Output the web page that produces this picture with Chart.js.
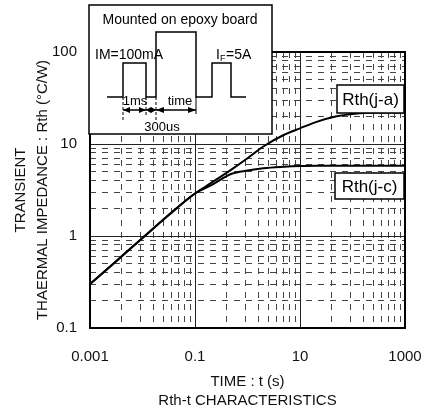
<!DOCTYPE html>
<html>
<head>
<meta charset="utf-8">
<script src="https://cdn.jsdelivr.net/npm/chart.js@4.4.1/dist/chart.umd.min.js"></script>
<style>
body { margin: 0; background: #fff; }
</style>
</head>
<body>
<canvas id="myChart" width="424" height="414"></canvas>
<script>
var timeS = [0.001, 0.003, 0.01, 0.03, 0.1, 0.2, 0.5, 1, 2, 5, 10, 20, 50, 100, 200, 500, 1000];
var rthJA = [0.3, 0.52, 0.95, 1.65, 2.9, 3.75, 5.3, 7.0, 9.4, 12.6, 14.8, 17.3, 20.0, 21.2, 21.8, 22.0, 22.0];
var rthJC = [0.3, 0.52, 0.95, 1.65, 2.9, 3.55, 4.75, 5.15, 5.45, 5.65, 5.75, 5.8, 5.8, 5.8, 5.8, 5.8, 5.8];
var xTickLabels = ['0.001', '0.1', '10', '1000'];
var yTickLabels = ['0.1', '1', '10', '100'];

var FONT = 'Arial, "Liberation Sans", sans-serif';
var xMajor = xTickLabels.map(Number);
var yMajor = yTickLabels.map(Number);

// one labelled x step is two decades, but the grid splits it like a single decade
var xTicks = [];
xMajor.forEach(function(m, i) {
    if (i == xMajor.length - 1) { xTicks.push(m); return; }
    for (var k = 1; k <= 9; k++) xTicks.push(m * k * k);
});
var yTicks = [];
yMajor.forEach(function(m, i) {
    if (i == yMajor.length - 1) { yTicks.push(m); return; }
    for (var k = 1; k <= 9; k++) yTicks.push(m * k);
});

function isMajorOf(major) {
    return function(c) { return c.tick && major.indexOf(c.tick.value) >= 0; };
}

function gridFor(major) {
    var isMajor = isMajorOf(major);
    return {
        drawTicks: false,
        lineWidth: 1,
        color: function(c) { return isMajor(c) ? '#222' : '#444'; }
    };
}

// in v4 the grid line dash lives under border
function borderFor(major) {
    var isMajor = isMajorOf(major);
    return {
        display: false,
        dash: function(c) { return isMajor(c) ? [] : [6, 6]; }
    };
}

function arrow(c, x1, x2, y, head) {
    c.beginPath(); c.moveTo(x1, y); c.lineTo(x2, y); c.stroke();
    c.beginPath();
    c.moveTo(x1, y); c.lineTo(x1 + head, y - 3); c.lineTo(x1 + head, y + 3); c.closePath();
    c.moveTo(x2, y); c.lineTo(x2 - head, y - 3); c.lineTo(x2 - head, y + 3); c.closePath();
    c.fill();
}

function labelBox(c, text, x1, y1, x2, y2) {
    c.fillStyle = '#fff';
    c.fillRect(x1, y1, x2 - x1, y2 - y1);
    c.strokeRect(x1, y1, x2 - x1, y2 - y1);
    c.fillStyle = '#000';
    c.font = '17px ' + FONT;
    c.textAlign = 'center';
    c.textBaseline = 'middle';
    c.fillText(text, (x1 + x2) / 2, (y1 + y2) / 2 + 1);
}

var framePlugin = {
    id: 'frame',
    afterDraw: function(chart) {
        var c = chart.ctx, a = chart.chartArea;
        c.save();
        c.strokeStyle = '#000';
        c.lineWidth = 2;
        c.strokeRect(a.left, a.top, a.right - a.left, a.bottom - a.top);

        // test circuit inset
        c.lineWidth = 1.5;
        c.fillStyle = '#fff';
        c.fillRect(89, 5, 183, 129);
        c.strokeRect(89, 5, 183, 129);
        c.fillStyle = '#000';
        c.font = '14px ' + FONT;
        c.textAlign = 'center';
        c.textBaseline = 'middle';
        c.fillText('Mounted on epoxy board', 180, 20);
        c.textAlign = 'left';
        c.fillText('IM=100mA', 95, 55);
        c.fillText('I', 216, 55);
        c.font = '9px ' + FONT;
        c.fillText('F', 220, 59);
        c.font = '14px ' + FONT;
        c.fillText('=5A', 226, 55);

        c.beginPath();
        c.moveTo(107, 97); c.lineTo(123, 97); c.lineTo(123, 63); c.lineTo(146, 63);
        c.lineTo(146, 97); c.lineTo(156, 97); c.lineTo(156, 32); c.lineTo(196, 32);
        c.lineTo(196, 97); c.lineTo(212, 97); c.lineTo(212, 63); c.lineTo(231, 63);
        c.lineTo(231, 97); c.lineTo(246, 97);
        c.stroke();

        c.lineWidth = 1;
        c.setLineDash([3, 2]);
        c.beginPath();
        c.moveTo(123, 97); c.lineTo(123, 121);
        c.moveTo(146, 97); c.lineTo(146, 115);
        c.moveTo(156, 97); c.lineTo(156, 121);
        c.stroke();
        c.setLineDash([]);
        c.beginPath(); c.moveTo(196, 97); c.lineTo(196, 114); c.stroke();

        c.lineWidth = 1.5;
        arrow(c, 123, 146, 110, 7);
        arrow(c, 146, 156, 110, 5);
        arrow(c, 156, 196, 110, 8);
        c.font = '13px ' + FONT;
        c.textAlign = 'center';
        c.fillText('1ms', 135, 101);
        c.fillText('time', 180, 101);
        c.fillText('300us', 162, 127);

        labelBox(c, 'Rth(j-a)', 337, 85, 404, 113);
        labelBox(c, 'Rth(j-c)', 335, 173, 404, 199);
        c.restore();
    }
};

var ctx = document.getElementById('myChart').getContext('2d');
var myChart = new Chart(ctx, {
    type: 'line',
    data: {
        datasets: [{
            label: 'Rth(j-a)',
            data: timeS.map(function(t, i) { return { x: t, y: rthJA[i] }; }),
            borderColor: '#000',
            borderWidth: 2,
            pointRadius: 0,
            cubicInterpolationMode: 'monotone'
        }, {
            label: 'Rth(j-c)',
            data: timeS.map(function(t, i) { return { x: t, y: rthJC[i] }; }),
            borderColor: '#000',
            borderWidth: 2,
            pointRadius: 0,
            cubicInterpolationMode: 'monotone'
        }]
    },
    options: {
        responsive: false,
        animation: false,
        layout: { padding: { top: 52, right: 19, left: 0, bottom: 4 } },
        plugins: { legend: { display: false }, tooltip: { enabled: false } },
        scales: {
            x: {
                type: 'logarithmic',
                min: 0.001,
                max: 1000,
                afterBuildTicks: function(s) { s.ticks = xTicks.map(function(v) { return { value: v }; }); },
                afterFit: function(s) { s.height = 82; s.paddingLeft = 0; s.paddingRight = 0; },
                border: borderFor(xMajor),
                grid: gridFor(xMajor),
                ticks: {
                    autoSkip: false,
                    maxRotation: 0,
                    padding: 20,
                    color: '#111',
                    font: { family: FONT, size: 15 },
                    callback: function(v) { var i = xMajor.indexOf(v); return i >= 0 ? xTickLabels[i] : ''; }
                },
                title: {
                    display: true,
                    text: ['TIME : t (s)', 'Rth-t CHARACTERISTICS'],
                    color: '#111',
                    font: { family: FONT, size: 15, lineHeight: '19px' },
                    padding: { top: 0, bottom: 0 }
                }
            },
            y: {
                type: 'logarithmic',
                min: 0.1,
                max: 100,
                afterBuildTicks: function(s) { s.ticks = yTicks.map(function(v) { return { value: v }; }); },
                afterFit: function(s) { s.width = 90; },
                border: borderFor(yMajor),
                grid: gridFor(yMajor),
                ticks: {
                    autoSkip: false,
                    padding: 13,
                    color: '#111',
                    font: { family: FONT, size: 15 },
                    callback: function(v) { var i = yMajor.indexOf(v); return i >= 0 ? yTickLabels[i] : ''; }
                },
                title: {
                    display: true,
                    text: ['TRANSIENT', 'THAERMAL IMPEDANCE : Rth (\u00b0C/W)'],
                    color: '#111',
                    font: { family: FONT, size: 15, lineHeight: '22px' },
                    padding: { top: 10, bottom: 0 }
                }
            }
        }
    },
    plugins: [framePlugin]
});
</script>
</body>
</html>
